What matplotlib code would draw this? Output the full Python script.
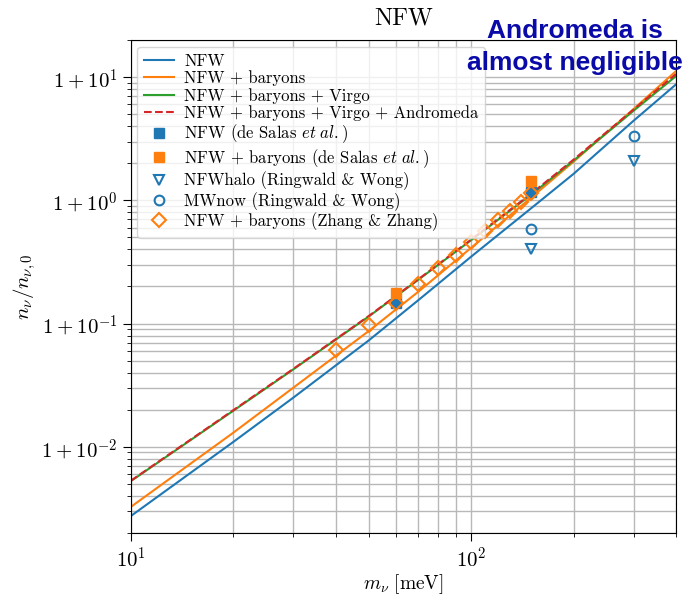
import numpy as np
import matplotlib
matplotlib.use("Agg")
import matplotlib.pyplot as plt
from matplotlib.ticker import FuncFormatter, LogLocator

plt.rcParams['font.family'] = ['cmr10', 'DejaVu Serif']
plt.rcParams['mathtext.fontset'] = 'cm'
plt.rcParams['axes.formatter.use_mathtext'] = True

# neutrino mass grid [meV] for the computed curves
m_curve = [10, 20, 30, 50, 70, 100, 150, 200, 300, 400]
# n/n0 - 1
nfw = [2.74e-3, 1.094e-2, 0.0250, 0.0729, 0.155, 0.349, 0.861, 1.64, 4.42, 8.73]
nfw_bar = [3.25e-3, 1.30e-2, 0.0301, 0.0869, 0.1815, 0.412, 1.05, 2.06, 5.50, 11.2]
nfw_bar_virgo = [5.26e-3, 1.96e-2, 0.0424, 0.114, 0.227, 0.475, 1.11, 2.10, 5.33, 10.2]
nfw_bar_virgo_and = [5.30e-3, 1.98e-2, 0.0428, 0.115, 0.229, 0.480, 1.13, 2.14, 5.45, 10.6]

# literature points
m_salas = [60, 150]
salas_nfw = [0.148, 1.16]
salas_bar = [0.178, 1.43]

m_rw = [150, 300]
rw_nfwhalo = [0.40, 2.07]
rw_mwnow = [0.59, 3.3]

m_zhang = [40, 50, 60, 70, 80, 90, 100, 110, 120, 130, 140, 150]
zhang_bar = [0.0615, 0.0975, 0.148, 0.211, 0.280, 0.357, 0.458, 0.56, 0.687, 0.814, 0.968, 1.15]

fig = plt.figure(figsize=(6.86, 5.95), dpi=100)
ax = fig.add_axes([0.1905, 0.1042, 0.795, 0.8286])

ax.plot(m_curve, nfw, color='tab:blue', lw=1.5, label='NFW')
ax.plot(m_curve, nfw_bar, color='tab:orange', lw=1.5, label='NFW + baryons')
ax.plot(m_curve, nfw_bar_virgo, color='tab:green', lw=1.5, label='NFW + baryons + Virgo')
ax.plot(m_curve, nfw_bar_virgo_and, color='tab:red', lw=1.5, ls='--',
        label='NFW + baryons + Virgo + Andromeda')

ax.plot(m_salas, salas_nfw, 's', color='tab:blue', ms=7.5, ls='none',
        label=r'NFW (de Salas $\mathit{et\ al.}$)')
ax.plot(m_salas, salas_bar, 's', color='tab:orange', ms=7.5, ls='none',
        label=r'NFW + baryons (de Salas $\mathit{et\ al.}$)')
ax.plot(m_rw, rw_nfwhalo, 'v', mfc='none', mec='tab:blue', mew=1.5, ms=7.5, ls='none',
        label='NFWhalo (Ringwald & Wong)')
ax.plot(m_rw, rw_mwnow, 'o', mfc='none', mec='tab:blue', mew=1.5, ms=7, ls='none',
        label='MWnow (Ringwald & Wong)')
ax.plot(m_zhang, zhang_bar, 'D', mfc='none', mec='tab:orange', mew=1.5, ms=7.5, ls='none',
        label='NFW + baryons (Zhang & Zhang)')

ax.set_xscale('log')
ax.set_yscale('log')
ax.set_xlim(10, 400)
ax.set_ylim(2e-3, 20)

ax.yaxis.set_major_locator(LogLocator(base=10, numticks=10))
ax.yaxis.set_major_formatter(FuncFormatter(
    lambda v, pos: r'$1\:+\:10^{%d}$' % int(round(np.log10(v)))))
ax.tick_params(which='major', length=6, labelsize=15)
ax.tick_params(which='minor', length=3)

ax.grid(True, which='both', color='0.72', lw=1)
ax.set_axisbelow(True)

ax.set_xlabel(r'$m_\nu\ [\mathrm{meV}]$', fontsize=14, labelpad=1)
ax.set_ylabel(r'$n_\nu/n_{\nu,0}$', fontsize=15, labelpad=2)
ax.set_title('NFW', fontsize=17.5, pad=11)

ax.legend(loc='upper left', fontsize=12, framealpha=0.8, labelspacing=0.1,
          borderaxespad=0.4, handlelength=1.8, handletextpad=0.6)

fig.text(0.838, 0.921, 'Andromeda is\nalmost negligible', ha='center', va='center',
         fontsize=19, fontweight='bold', color='#0a0aa8', family='Liberation Sans',
         linespacing=1.45)

fig.savefig('out.png', dpi=100)
